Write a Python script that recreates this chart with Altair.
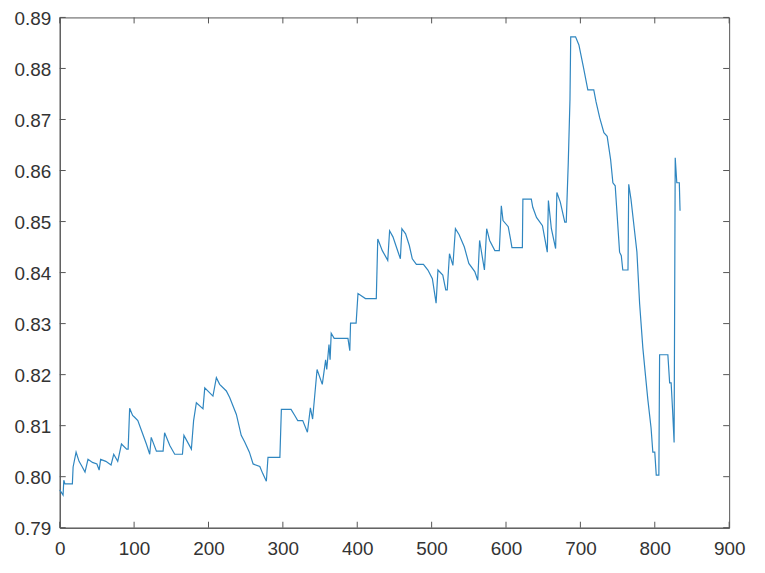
import altair as alt
import pandas as pd

# vertex samples (sample index, value)
xs = [0, 4.5, 5.5, 7, 17, 18, 22, 26, 30, 34, 38, 44, 50, 53, 55, 62, 69, 72.6, 78, 83,
      90, 92, 94, 98, 101, 105, 110, 116.5, 121, 123, 130, 139, 141, 148, 154.6, 165, 167, 177, 180, 183.7,
      192.6, 195, 206, 210.6, 215, 224, 228.5, 237.5, 244, 248.7, 255, 260, 269, 273, 277.8, 280, 296, 298, 311, 316,
      320, 326.7, 333, 337, 340, 346, 353, 357.5, 359, 362, 363.5, 365, 369, 387.5, 390, 391, 398.5, 401, 411, 425.6,
      427.6, 433.7, 441, 443.5, 448, 452.6, 458, 460, 465, 470, 474, 479.5, 489, 495, 501, 506, 508.5, 515, 519, 521,
      524, 528.6, 532, 537, 544, 550, 558, 562, 564.5, 571, 574, 578, 585, 591, 593.7, 596, 603, 606, 608, 622,
      622.7, 634, 636, 641, 649, 655.5, 657, 661, 666.7, 668.4, 673, 679, 681, 683.7, 686, 687, 693.5, 698, 704, 710,
      718, 721, 726, 731.6, 736, 740.6, 743.7, 746.8, 752.7, 755, 757, 764, 765, 768, 773, 776, 779.6, 784, 787.6, 790.7,
      795, 797.4, 800, 802, 805.5, 806.5, 817.6, 820, 822, 824, 826, 827.5, 829.6, 833, 834]
ys = [0.7974, 0.7964, 0.7993, 0.7986, 0.7986, 0.8019, 0.8048, 0.8030, 0.8020, 0.8009, 0.8034, 0.8028, 0.8025, 0.8013, 0.8034, 0.8030, 0.8023, 0.8044, 0.8030, 0.8064,
      0.8054, 0.8054, 0.8134, 0.8120, 0.8116, 0.8110, 0.8090, 0.8064, 0.8044, 0.8077, 0.8050, 0.8050, 0.8086, 0.8061, 0.8044, 0.8044, 0.8081, 0.8054, 0.8110, 0.8145,
      0.8133, 0.8174, 0.8158, 0.8194, 0.8181, 0.8168, 0.8155, 0.8122, 0.8081, 0.8068, 0.8048, 0.8025, 0.8020, 0.8006, 0.7991, 0.8038, 0.8038, 0.8132, 0.8132, 0.8120,
      0.8110, 0.8110, 0.8087, 0.8135, 0.8113, 0.8210, 0.8181, 0.8229, 0.8210, 0.8259, 0.8229, 0.8281, 0.8271, 0.8271, 0.8247, 0.8301, 0.8301, 0.8359, 0.8349, 0.8349,
      0.8466, 0.8443, 0.8424, 0.8482, 0.8470, 0.8450, 0.8427, 0.8486, 0.8476, 0.8453, 0.8427, 0.8416, 0.8416, 0.8405, 0.8388, 0.8340, 0.8405, 0.8395, 0.8366, 0.8366,
      0.8437, 0.8414, 0.8486, 0.8474, 0.8450, 0.8418, 0.8402, 0.8385, 0.8463, 0.8405, 0.8486, 0.8463, 0.8443, 0.8443, 0.8531, 0.8502, 0.8490, 0.8466, 0.8449, 0.8449,
      0.8544, 0.8544, 0.8528, 0.8508, 0.8492, 0.8440, 0.8541, 0.8486, 0.8447, 0.8557, 0.8538, 0.8499, 0.8499, 0.8615, 0.8739, 0.8862, 0.8862, 0.8846, 0.8803, 0.8758,
      0.8758, 0.8735, 0.8703, 0.8674, 0.8667, 0.8622, 0.8576, 0.8570, 0.8440, 0.8433, 0.8405, 0.8405, 0.8573, 0.8544, 0.8479, 0.8440, 0.8340, 0.8252, 0.8197, 0.8151,
      0.8096, 0.8048, 0.8048, 0.8003, 0.8003, 0.8239, 0.8239, 0.8184, 0.8184, 0.8129, 0.8067, 0.8625, 0.8576, 0.8576, 0.8521]

x_ticks = [0, 100, 200, 300, 400, 500, 600, 700, 800, 900]
y_ticks = [0.79, 0.80, 0.81, 0.82, 0.83, 0.84, 0.85, 0.86, 0.87, 0.88, 0.89]

W, H = 673, 513
TICK = 6
AX = "#555555"
LINE = "#2f86c0"
FONT = "Liberation Sans"

df = pd.DataFrame({"x": xs, "y": ys, "i": range(len(xs))})
dfx = pd.DataFrame({"x": x_ticks})
dfy = pd.DataFrame({"y": y_ticks})

xscale = alt.Scale(domain=[0, 900], nice=False, zero=False)
yscale = alt.Scale(domain=[0.79, 0.89], nice=False, zero=False)
xaxis = alt.Axis(values=x_ticks, title=None, ticks=False, grid=False, labelPadding=12,
                 format="d", domainColor=AX, labelFlush=False)
yaxis = alt.Axis(values=y_ticks, title=None, ticks=False, grid=False, labelPadding=9,
                 labelOffset=1, format=".2f", domainColor=AX)

line = alt.Chart(df).mark_line(color=LINE, strokeWidth=1.2).encode(
    x=alt.X("x:Q", scale=xscale, axis=xaxis),
    y=alt.Y("y:Q", scale=yscale, axis=yaxis),
    order="i:Q",
)

xt_bottom = alt.Chart(dfx).mark_rule(color=AX, strokeWidth=1).encode(
    x=alt.X("x:Q", scale=xscale, axis=xaxis), y=alt.value(H), y2=alt.value(H - TICK))
xt_top = alt.Chart(dfx).mark_rule(color=AX, strokeWidth=1).encode(
    x=alt.X("x:Q", scale=xscale, axis=xaxis), y=alt.value(0), y2=alt.value(TICK))
yt_left = alt.Chart(dfy).mark_rule(color=AX, strokeWidth=1).encode(
    y=alt.Y("y:Q", scale=yscale, axis=yaxis), x=alt.value(0), x2=alt.value(TICK))
yt_right = alt.Chart(dfy).mark_rule(color=AX, strokeWidth=1).encode(
    y=alt.Y("y:Q", scale=yscale, axis=yaxis), x=alt.value(W), x2=alt.value(W - TICK))

chart = alt.layer(line, xt_bottom, xt_top, yt_left, yt_right).properties(
    width=W, height=H,
    autosize=alt.AutoSizeParams(type="none"),
    padding={"left": 52, "top": 8, "right": 28, "bottom": 36},
).configure_view(
    stroke=AX, strokeWidth=1
).configure_axis(
    labelFont=FONT, labelFontSize=19, labelColor="#333333", domainWidth=1
)

chart.save("out.html", embed_options={"renderer": "svg", "actions": False})
